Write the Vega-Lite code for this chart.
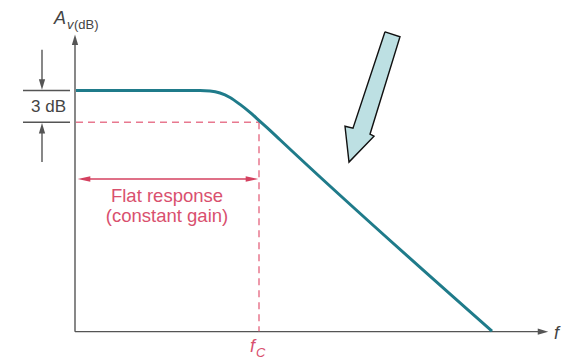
{
  "$schema": "https://vega.github.io/schema/vega-lite/v6.json",
  "width": 566,
  "height": 360,
  "autosize": {"type": "fit", "contains": "padding"},
  "padding": 0,
  "background": "white",
  "config": {"view": {"stroke": null}},
  "encoding": {
    "x": {"field": "x", "type": "quantitative", "scale": {"domain": [0, 566], "nice": false, "zero": false}, "axis": null},
    "y": {"field": "y", "type": "quantitative", "scale": {"domain": [0, 360], "nice": false, "zero": false, "reverse": true}, "axis": null}
  },
  "layer": [
    {
      "data": {"values": [
        {"o": 1, "x": 385, "y": 32},
        {"o": 2, "x": 400, "y": 37},
        {"o": 3, "x": 370, "y": 135},
        {"o": 4, "x": 374, "y": 137},
        {"o": 5, "x": 349, "y": 163},
        {"o": 6, "x": 345, "y": 127},
        {"o": 7, "x": 353, "y": 129},
        {"o": 8, "x": 385, "y": 32}
      ]},
      "mark": {"type": "line", "fill": "#bde0e3", "stroke": "#111111", "strokeWidth": 1.4, "strokeJoin": "miter"},
      "encoding": {"order": {"field": "o", "type": "quantitative"}}
    },
    {
      "data": {"values": [
        {"x": 75, "y": 333.5, "x2": 75, "y2": 42},
        {"x": 75, "y": 333.5, "x2": 542, "y2": 333.5},
        {"x": 23, "y": 91, "x2": 70, "y2": 91},
        {"x": 23, "y": 123, "x2": 70, "y2": 123},
        {"x": 42, "y": 50, "x2": 42, "y2": 84},
        {"x": 42, "y": 163, "x2": 42, "y2": 130}
      ]},
      "mark": {"type": "rule", "color": "#555555", "strokeWidth": 1.4},
      "encoding": {"x2": {"field": "x2"}, "y2": {"field": "y2"}}
    },
    {
      "data": {"values": [{"x": 75, "y": 40}, {"x": 42, "y": 129}]},
      "mark": {"type": "point", "shape": "M0,-1L0.6,1L-0.6,1Z", "size": 110, "filled": true, "color": "#555555", "opacity": 1}
    },
    {
      "data": {"values": [{"x": 42, "y": 85}]},
      "mark": {"type": "point", "shape": "M0,1L0.6,-1L-0.6,-1Z", "size": 110, "filled": true, "color": "#555555", "opacity": 1}
    },
    {
      "data": {"values": [{"x": 543, "y": 333.5}]},
      "mark": {"type": "point", "shape": "M1,0L-1,-0.6L-1,0.6Z", "size": 110, "filled": true, "color": "#555555", "opacity": 1}
    },
    {
      "data": {"values": [
        {"x": 76, "y": 123, "x2": 259, "y2": 123},
        {"x": 259, "y": 123, "x2": 259, "y2": 333}
      ]},
      "mark": {"type": "rule", "color": "#e8788f", "strokeWidth": 1.5, "strokeDash": [7, 5]},
      "encoding": {"x2": {"field": "x2"}, "y2": {"field": "y2"}}
    },
    {
      "data": {"values": [{"x": 82, "y": 180, "x2": 253, "y2": 180}]},
      "mark": {"type": "rule", "color": "#d4405f", "strokeWidth": 1.6},
      "encoding": {"x2": {"field": "x2"}, "y2": {"field": "y2"}}
    },
    {
      "data": {"values": [{"x": 84, "y": 180}]},
      "mark": {"type": "point", "shape": "M-1,0L1,-0.45L1,0.45Z", "size": 160, "filled": true, "color": "#d4405f", "opacity": 1}
    },
    {
      "data": {"values": [{"x": 252, "y": 180}]},
      "mark": {"type": "point", "shape": "M1,0L-1,-0.45L-1,0.45Z", "size": 160, "filled": true, "color": "#d4405f", "opacity": 1}
    },
    {
      "data": {"values": [
        {"o": 1, "x": 76, "y": 91},
        {"o": 2, "x": 200, "y": 91},
        {"o": 3, "x": 210, "y": 91.5},
        {"o": 4, "x": 220, "y": 93.5},
        {"o": 5, "x": 230, "y": 98},
        {"o": 6, "x": 240, "y": 105},
        {"o": 7, "x": 250, "y": 113},
        {"o": 8, "x": 260, "y": 122},
        {"o": 9, "x": 270, "y": 131},
        {"o": 10, "x": 280, "y": 140.5},
        {"o": 11, "x": 492, "y": 333}
      ]},
      "mark": {"type": "line", "color": "#1f7b8a", "strokeWidth": 3, "interpolate": "monotone"},
      "encoding": {"order": {"field": "o", "type": "quantitative"}}
    },
    {
      "data": {"values": [{"x": 60, "y": 24, "t": "A"}]},
      "mark": {"type": "text", "font": "Liberation Sans", "fontSize": 18, "fontStyle": "italic", "color": "#444444", "align": "center", "baseline": "alphabetic"},
      "encoding": {"text": {"field": "t"}}
    },
    {
      "data": {"values": [{"x": 67, "y": 29, "t": "v"}]},
      "mark": {"type": "text", "font": "Liberation Sans", "fontSize": 13, "fontStyle": "italic", "color": "#444444", "align": "left", "baseline": "alphabetic"},
      "encoding": {"text": {"field": "t"}}
    },
    {
      "data": {"values": [{"x": 74, "y": 29, "t": "(dB)"}]},
      "mark": {"type": "text", "font": "Liberation Sans", "fontSize": 13, "color": "#444444", "align": "left", "baseline": "alphabetic"},
      "encoding": {"text": {"field": "t"}}
    },
    {
      "data": {"values": [{"x": 48.5, "y": 113, "t": "3 dB"}]},
      "mark": {"type": "text", "font": "Liberation Sans", "fontSize": 17, "color": "#444444", "align": "center", "baseline": "alphabetic"},
      "encoding": {"text": {"field": "t"}}
    },
    {
      "data": {"values": [
        {"x": 167, "y": 203, "t": "Flat response"},
        {"x": 167, "y": 223, "t": "(constant gain)"}
      ]},
      "mark": {"type": "text", "font": "Liberation Sans", "fontSize": 18.5, "color": "#d9506e", "align": "center", "baseline": "alphabetic"},
      "encoding": {"text": {"field": "t"}}
    },
    {
      "data": {"values": [{"x": 250, "y": 354, "t": "f"}]},
      "mark": {"type": "text", "font": "Liberation Sans", "fontSize": 18, "fontStyle": "italic", "color": "#d9506e", "align": "left", "baseline": "alphabetic"},
      "encoding": {"text": {"field": "t"}}
    },
    {
      "data": {"values": [{"x": 256, "y": 359, "t": "C"}]},
      "mark": {"type": "text", "font": "Liberation Sans", "fontSize": 13, "fontStyle": "italic", "color": "#d9506e", "align": "left", "baseline": "alphabetic"},
      "encoding": {"text": {"field": "t"}}
    },
    {
      "data": {"values": [{"x": 554, "y": 341, "t": "f"}]},
      "mark": {"type": "text", "font": "Liberation Sans", "fontSize": 18, "fontStyle": "italic", "color": "#444444", "align": "left", "baseline": "alphabetic"},
      "encoding": {"text": {"field": "t"}}
    }
  ]
}
